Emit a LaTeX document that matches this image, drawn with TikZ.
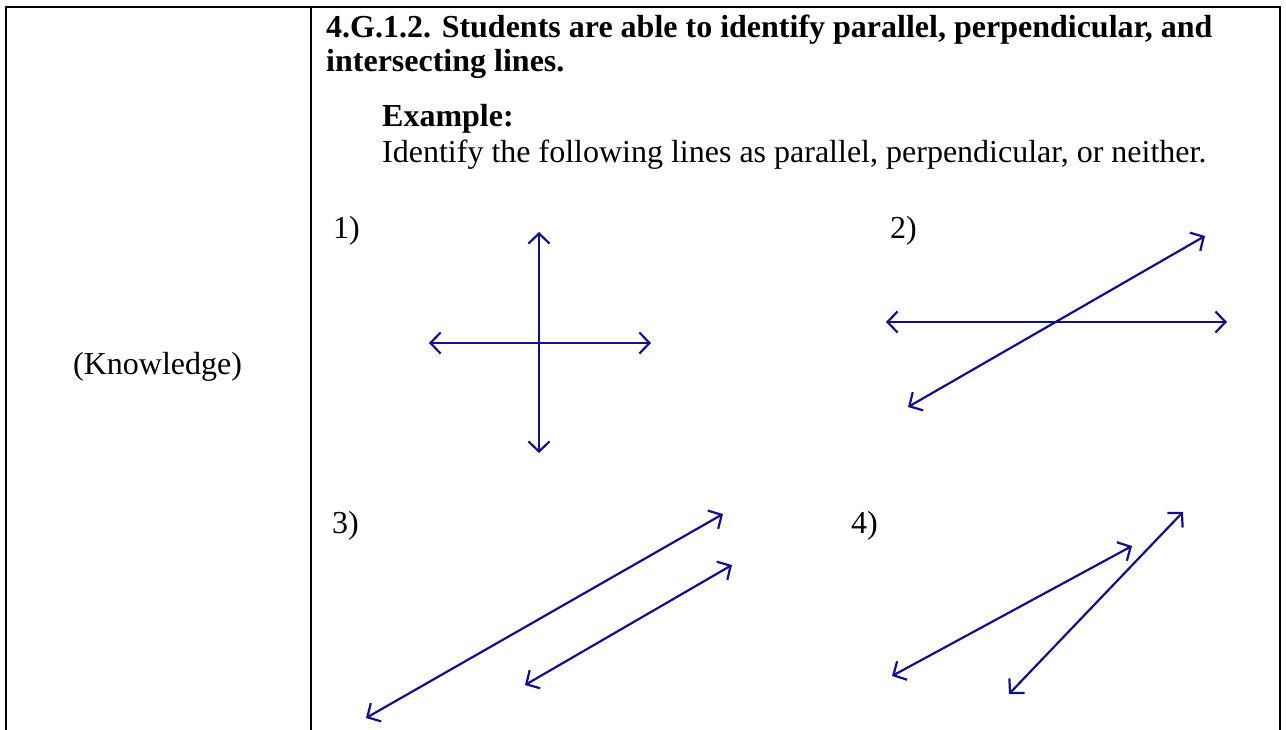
\documentclass[tikz,border=0pt]{standalone}
\usepackage{fontspec}
\setmainfont{Liberation Serif}
\usetikzlibrary{arrows.meta}
\definecolor{linenavy}{RGB}{16,16,138}
\tikzset{
  txt/.style={anchor=base west, inner sep=0pt, font=\fontsize{32}{34}\selectfont},
  btxt/.style={txt, font=\fontsize{32}{34}\selectfont\bfseries},
  border/.style={draw=black, line width=2.2pt},
  dbl/.style={draw=linenavy, line width=2.2pt, {Straight Barb[length=10pt,width=21pt]}-{Straight Barb[length=10pt,width=21pt]}}
}
\begin{document}
\begin{tikzpicture}[x=1pt,y=-1pt]
\useasboundingbox[fill=white] (0,0) rectangle (1286,730);
% table borders
\coordinate (tl) at (6,7);
\coordinate (tr) at (1280,7);
\coordinate (bl) at (6,732);
\coordinate (br) at (1280,732);
\coordinate (dt) at (311,7);
\coordinate (db) at (311,732);
\draw[border] (bl) -- (tl) -- (tr) -- (br);
\draw[border] (dt) -- (db);
% texts
\node[txt] (know) at (73,374) {(Knowledge)};
\node[btxt] (h1) at (326,38) {4.G.1.2. Students are able to identify parallel, perpendicular, and};
\node[btxt] (h2) at (326,72) {intersecting lines.};
\node[btxt] (ex) at (382,127) {Example:};
\node[txt] (id) at (382,163) {Identify the following lines as parallel, perpendicular, or neither.};
\node[txt] (l1) at (333,239) {1)};
\node[txt] (l2) at (890,239) {2)};
\node[txt] (l3) at (332,533) {3)};
\node[txt] (l4) at (851,533) {4)};
% figure 1
\coordinate (f1t) at (539,232);
\coordinate (f1b) at (539,453);
\coordinate (f1l) at (429,343);
\coordinate (f1r) at (651,343);
\draw[dbl] (f1b) -- (f1t);
\draw[dbl] (f1l) -- (f1r);
% figure 2
\coordinate (f2l) at (886,322);
\coordinate (f2r) at (1227,322);
\coordinate (f2a) at (908,407);
\coordinate (f2b) at (1205,236);
\draw[dbl] (f2l) -- (f2r);
\draw[dbl] (f2a) -- (f2b);
% figure 3
\coordinate (f3a) at (366,718);
\coordinate (f3b) at (723,514);
\coordinate (f3c) at (525,685);
\coordinate (f3d) at (732,565);
\draw[dbl] (f3a) -- (f3b);
\draw[dbl] (f3c) -- (f3d);
% figure 4
\coordinate (f4a) at (892,676);
\coordinate (f4b) at (1132,546);
\coordinate (f4c) at (1009,694);
\coordinate (f4d) at (1183,512);
\draw[dbl] (f4a) -- (f4b);
\draw[dbl] (f4c) -- (f4d);
\end{tikzpicture}
\end{document}
